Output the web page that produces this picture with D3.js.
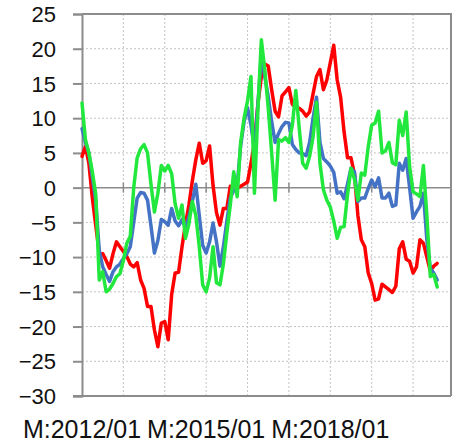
<!DOCTYPE html>
<html>
<head>
<meta charset="utf-8">
<script src="https://cdn.jsdelivr.net/npm/d3@7"></script>
<style>
  html, body { margin: 0; padding: 0; background: #fff; }
  svg { display: block; }
</style>
</head>
<body>
<svg id="chart" width="454" height="444"></svg>
<script>
// Monthly categories, 2012/01 .. 2020/12
const months = d3.range(108).map(i => `${2012 + Math.floor(i / 12)}/${String(i % 12 + 1).padStart(2, "0")}`);

// Labels shown on the category axis
const xTickLabels = ["2012/01", "2015/01", "2018/01"];
const yTicks = [25, 20, 15, 10, 5, 0, -5, -10, -15, -20, -25, -30];

const redSeries = [
  4.5, 5.9, 3.5, -1.5, -5.5, -9.4, -9.5, -10.5, -11.6, -9.5,
  -7.8, -8.5, -9.2, -9.9, -11.0, -11.4, -10.8, -13.3, -14.5, -17.1,
  -17.1, -20.5, -22.9, -19.5, -19.3, -21.9, -15.4, -12.3, -12.2, -8.5,
  -5.3, -2.5, 1.0, 4.0, 6.4, 3.5, 3.9, 6.0, 0.3, -3.6,
  -5.4, -3.0, -3.0, 0.2, -0.2, -0.1, 0.2, 0.5, 0.8, 3.5,
  6.5, 12.0, 16.0, 17.8, 17.5, 14.1, 11.0, 10.2, 13.2, 13.8,
  14.4, 12.0, 11.6, 11.4, 11.0, 10.3, 10.9, 13.5, 16.0, 17.0,
  14.1, 15.5, 18.0, 20.5, 15.5, 13.0, 8.0, 4.3, 4.3, 2.0,
  -4.0, -7.5, -8.5, -12.3, -13.8, -16.2, -16.0, -13.9, -14.3, -14.7,
  -15.1, -14.2, -8.8, -7.8, -10.3, -10.6, -12.3, -11.4, -7.5, -8.0,
  -10.0, -12.0, -11.3, -10.9
];

const blueSeries = [
  8.5, 6.5, 5.0, 1.5, -2.0, -9.0, -11.4, -12.5, -13.5, -12.1,
  -11.4, -11.0, -10.2, -9.5, -8.5, -5.0, -1.5, -0.7, -0.8, -1.8,
  -5.5, -9.4, -7.6, -4.6, -4.9, -5.4, -3.0, -4.8, -5.5, -4.6,
  -5.8, -4.2, -2.0, 0.5, -4.0, -8.3, -9.4, -7.8, -5.1, -7.8,
  -11.3, -8.5, -4.8, -1.5, -0.4, 0.3, 6.0, 9.5, 11.5, 9.0,
  5.5, 12.0, 19.0, 16.0, 13.1, 9.5, 6.5, 7.8, 8.8, 9.4,
  9.3, 6.2, 5.5, 5.0, 4.9, 4.6, 6.5, 10.0, 13.0, 6.5,
  4.2, 3.7, 3.1, 2.2, -0.8, -0.6, -1.6, 0.5, 2.8, 2.3,
  -2.0, -1.5, -1.5, -0.1, 1.1, 0.1, 1.4, -1.5, -1.5, -0.8,
  -2.7, -2.5, 3.5, 2.5, 4.2, 0.0, -4.4, -3.5, -2.7, -0.8,
  -7.5, -11.6, -12.3, -13.3
];

const greenSeries = [
  12.2, 6.9, 5.0, 2.3, -1.0, -13.3, -12.1, -15.0, -14.6, -13.8,
  -12.8, -12.4, -10.5, -8.0, -7.0, 0.0, 4.3, 5.6, 6.2, 5.0,
  0.5, -3.5, -0.8, 3.2, 2.4, 3.2, 2.0, -2.3, -4.4, -2.5,
  -7.3, -5.2, -2.0, -4.0, -8.5, -14.0, -15.0, -13.0, -8.5, -13.7,
  -14.0, -11.0, -6.5, -2.5, 2.3, -1.3, 6.5, 10.0, 12.5, 16.0,
  -0.8, 11.0, 21.3, 17.0, 11.5, 5.0, -1.8, 6.9, 6.7, 7.2,
  6.5, 9.0, 14.0, 8.5, 3.5, 2.8, 4.5, 7.3, 12.3, 3.5,
  -0.3, -1.8, -2.8, -4.8, -7.3, -5.7, -5.6, -1.0, 2.8, 1.2,
  -1.8, 2.1, 1.8, 5.9, 9.0, 9.3, 11.0, 5.0, 5.3, 6.5,
  3.6, 3.3, 9.7, 7.5, 10.9, 3.0, -0.6, -0.9, -1.3, 3.2,
  -4.0, -12.8, -12.5, -14.3
];

const series = [
  { name: "red", values: redSeries, color: "#ff0000" },
  { name: "blue", values: blueSeries, color: "#4472c4" },
  { name: "green", values: greenSeries, color: "#22e83e" }
];

const svg = d3.select("#chart");
const plot = { left: 82, right: 451, top: 14, bottom: 396 };
const frameColor = "#8c8c8c";
const gridColor = "#c4c4c4";

const x = d3.scalePoint().domain(months).range([plot.left, plot.right]);
const y = d3.scaleLinear().domain([-30, 25]).range([plot.bottom, plot.top]);

// Horizontal gridlines
svg.append("g")
  .selectAll("line")
  .data(yTicks.filter(v => v !== 0 && v !== 25 && v !== -30))
  .join("line")
  .attr("x1", plot.left).attr("x2", plot.right)
  .attr("y1", d => y(d)).attr("y2", d => y(d))
  .attr("stroke", gridColor).attr("stroke-width", 1)
  .attr("stroke-dasharray", "2,2");

// Vertical gridlines, one per year
const yearStarts = months.filter((m, i) => i % 12 === 0 && i > 0);
svg.append("g")
  .selectAll("line")
  .data(yearStarts)
  .join("line")
  .attr("x1", d => x(d)).attr("x2", d => x(d))
  .attr("y1", plot.top).attr("y2", plot.bottom)
  .attr("stroke", gridColor).attr("stroke-width", 1)
  .attr("stroke-dasharray", "2,2");

// Frame: top and right edges
svg.append("path")
  .attr("d", `M${plot.left},${plot.top}H${plot.right}V${plot.bottom}`)
  .attr("fill", "none").attr("stroke", frameColor).attr("stroke-width", 2);

// Value axis on the left
const yAxis = d3.axisLeft(y).tickValues(yTicks).tickSize(9).tickPadding(17);
const yAxisG = svg.append("g")
  .attr("transform", `translate(${plot.left},0)`)
  .call(yAxis);
yAxisG.select(".domain").attr("stroke", frameColor).attr("stroke-width", 2);
yAxisG.selectAll(".tick line").attr("stroke", frameColor).attr("stroke-width", 2);
yAxisG.selectAll(".tick text")
  .attr("font-family", "Liberation Sans, Arial, sans-serif")
  .attr("font-size", 22)
  .attr("fill", "#111")
  .attr("dy", "0.35em");

// Bottom edge
svg.append("line")
  .attr("x1", plot.left - 9).attr("x2", plot.right)
  .attr("y1", plot.bottom).attr("y2", plot.bottom)
  .attr("stroke", frameColor).attr("stroke-width", 2);

// Category axis line at zero with crossing tick marks
const xAxisG = svg.append("g");
xAxisG.append("line")
  .attr("x1", plot.left).attr("x2", plot.right)
  .attr("y1", y(0)).attr("y2", y(0))
  .attr("stroke", frameColor).attr("stroke-width", 1.5);
xAxisG.selectAll("line.tick")
  .data(yearStarts)
  .join("line")
  .attr("class", "tick")
  .attr("x1", d => x(d)).attr("x2", d => x(d))
  .attr("y1", y(0) - 5).attr("y2", y(0) + 5)
  .attr("stroke", frameColor).attr("stroke-width", 1.5);

// Category labels along the bottom
svg.append("g")
  .selectAll("text")
  .data(xTickLabels)
  .join("text")
  .attr("x", d => x(d))
  .attr("y", 438)
  .attr("text-anchor", "middle")
  .attr("font-family", "Liberation Sans, Arial, sans-serif")
  .attr("font-size", 25)
  .attr("fill", "#111")
  .text(d => "M:" + d);

// Series lines
const line = d3.line()
  .x((d, i) => x(months[i]))
  .y(d => y(d));

svg.append("g")
  .selectAll("path")
  .data(series)
  .join("path")
  .attr("d", d => line(d.values))
  .attr("fill", "none")
  .attr("stroke", d => d.color)
  .attr("stroke-width", 3.5)
  .attr("stroke-linejoin", "round")
  .attr("stroke-linecap", "round");
</script>
</body>
</html>
